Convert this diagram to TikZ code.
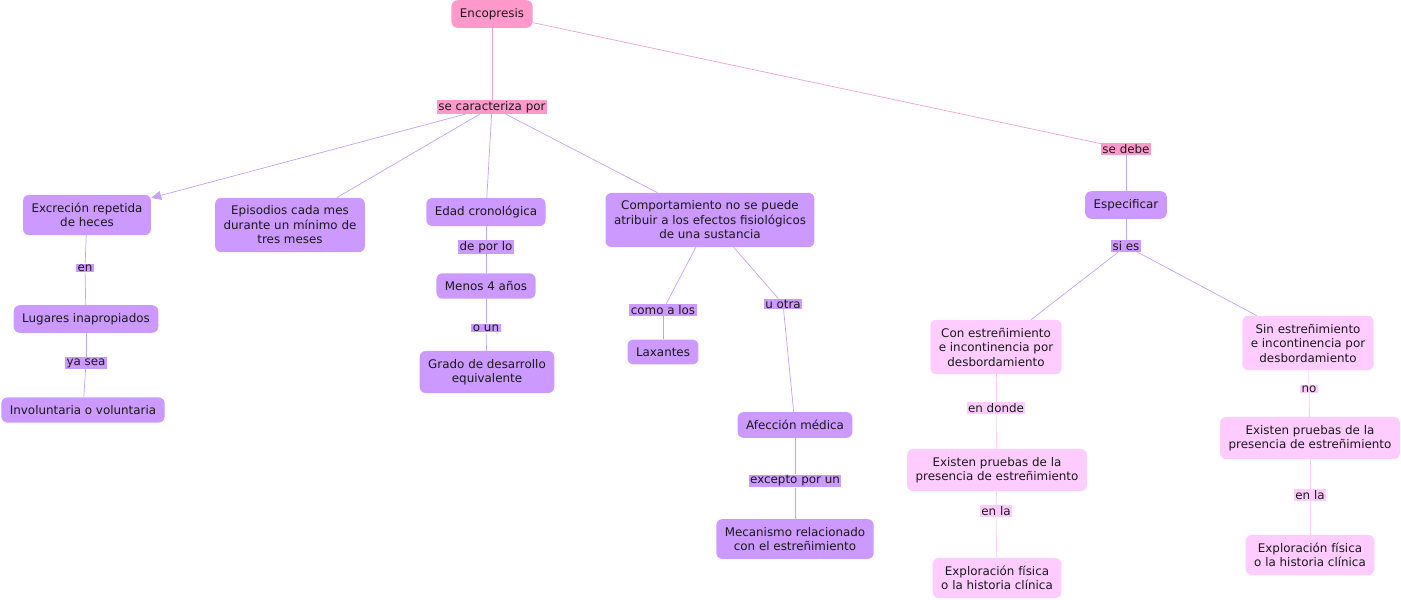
\documentclass[tikz,border=0pt]{standalone}
\usepackage{fontspec}
\setmainfont{DejaVu Sans}
\usepackage{tikz}
\usetikzlibrary{arrows.meta}

\definecolor{rosa}{HTML}{FF99CC}
\definecolor{lila}{HTML}{CC99FF}
\definecolor{rosaclaro}{HTML}{FFCCFF}
\definecolor{linearosa}{HTML}{E8A2D6}
\definecolor{linealila}{HTML}{C6A2F2}
\definecolor{linearosaclaro}{HTML}{F6CCF6}

\tikzset{
  concepto/.style={rounded corners=6pt, align=center, inner xsep=8.5pt, inner ysep=8pt,
    font=\fontsize{11.9}{14.5}\selectfont, text=black!90},
  enlace/.style={inner xsep=1.5pt, inner ysep=1pt, font=\fontsize{11.9}{13}\selectfont, text=black!90},
  linea/.style={line width=0.7pt},
}

\begin{document}
\begin{tikzpicture}[x=1pt,y=-1pt]
    \useasboundingbox (0,0) rectangle (1401,600);

    % conceptos
    \node[concepto,fill=rosa] (enc) at (492,14) {Encopresis};
    \node[concepto,fill=lila] (excr) at (87,215) {Excreción repetida\\de heces};
    \node[concepto,fill=lila] (epis) at (290,225) {Episodios cada mes\\durante un mínimo de\\tres meses};
    \node[concepto,fill=lila] (edad) at (486,212) {Edad cronológica};
    \node[concepto,fill=lila] (comp) at (710,220) {Comportamiento no se puede\\atribuir a los efectos fisiológicos\\de una sustancia};
    \node[concepto,fill=lila] (espec) at (1126,205) {Especificar};
    \node[concepto,fill=lila] (lugares) at (86,319) {Lugares inapropiados};
    \node[concepto,fill=lila] (invol) at (83,410) {Involuntaria o voluntaria};
    \node[concepto,fill=lila] (menos) at (486,286) {Menos 4 años};
    \node[concepto,fill=lila] (grado) at (487,372) {Grado de desarrollo\\equivalente};
    \node[concepto,fill=lila] (laxa) at (663,352) {Laxantes};
    \node[concepto,fill=lila] (afec) at (795,425) {Afección médica};
    \node[concepto,fill=lila] (meca) at (795,539) {Mecanismo relacionado\\con el estreñimiento};
    \node[concepto,fill=rosaclaro] (con) at (996,347) {Con estreñimiento\\e incontinencia por\\desbordamiento};
    \node[concepto,fill=rosaclaro] (sin) at (1308,343) {Sin estreñimiento\\e incontinencia por\\desbordamiento};
    \node[concepto,fill=rosaclaro] (existA) at (997,470) {Existen pruebas de la\\presencia de estreñimiento};
    \node[concepto,fill=rosaclaro] (explA) at (997,578) {Exploración física\\o la historia clínica};
    \node[concepto,fill=rosaclaro] (existB) at (1310,438) {Existen pruebas de la\\presencia de estreñimiento};
    \node[concepto,fill=rosaclaro] (explB) at (1310,555) {Exploración física\\o la historia clínica};

    % enlaces
    \node[enlace,fill=rosa] (caract) at (492,107) {se caracteriza por};
    \node[enlace,fill=rosa] (debe) at (1126,149) {se debe};
    \node[enlace,fill=lila] (en) at (85,268) {en\ };
    \node[enlace,fill=lila] (yasea) at (86,363) {ya sea};
    \node[enlace,fill=lila] (porlo) at (486,247) {de por lo};
    \node[enlace,fill=lila] (oun) at (486,328) {o un};
    \node[enlace,fill=lila] (comolos) at (663,310) {como a los};
    \node[enlace,fill=lila] (uotra) at (783,304) {u otra};
    \node[enlace,fill=lila] (excepto) at (795,481) {excepto por un};
    \node[enlace,fill=lila] (sies) at (1126,246) {si es\ };
    \node[enlace,fill=rosaclaro] (donde) at (996,408) {en donde};
    \node[enlace,fill=rosaclaro] (enlaA) at (996,511) {en la};
    \node[enlace,fill=rosaclaro] (no) at (1309,389) {no};
    \node[enlace,fill=rosaclaro] (enlaB) at (1310,495) {en la};

    % conectores
    \draw[linea,linearosa] (enc) -- (caract);
    \draw[linea,linearosa] (enc) -- (debe);
    \draw[linea,linealila,-{Triangle[length=10pt,width=9pt]}] (caract) -- (excr);
    \draw[linea,linealila] (caract) -- (epis);
    \draw[linea,linealila] (caract) -- (edad);
    \draw[linea,linealila] (caract) -- (comp);
    \draw[linea,linealila] (debe) -- (espec);
    \draw[linea,linealila] (excr) -- (en);
    \draw[linea,linealila] (en) -- (lugares);
    \draw[linea,linealila] (lugares) -- (yasea);
    \draw[linea,linealila] (yasea) -- (invol);
    \draw[linea,linealila] (edad) -- (porlo);
    \draw[linea,linealila] (porlo) -- (menos);
    \draw[linea,linealila] (menos) -- (oun);
    \draw[linea,linealila] (oun) -- (grado);
    \draw[linea,linealila] (comp) -- (comolos);
    \draw[linea,linealila] (comolos) -- (laxa);
    \draw[linea,linealila] (comp) -- (uotra);
    \draw[linea,linealila] (uotra) -- (afec);
    \draw[linea,linealila] (afec) -- (excepto);
    \draw[linea,linealila] (excepto) -- (meca);
    \draw[linea,linealila] (espec) -- (sies);
    \draw[linea,linealila] (sies) -- (con);
    \draw[linea,linealila] (sies) -- (sin);
    \draw[linea,linearosaclaro] (con) -- (donde);
    \draw[linea,linearosaclaro] (donde) -- (existA);
    \draw[linea,linearosaclaro] (existA) -- (enlaA);
    \draw[linea,linearosaclaro] (enlaA) -- (explA);
    \draw[linea,linearosaclaro] (sin) -- (no);
    \draw[linea,linearosaclaro] (no) -- (existB);
    \draw[linea,linearosaclaro] (existB) -- (enlaB);
    \draw[linea,linearosaclaro] (enlaB) -- (explB);
\end{tikzpicture}
\end{document}
